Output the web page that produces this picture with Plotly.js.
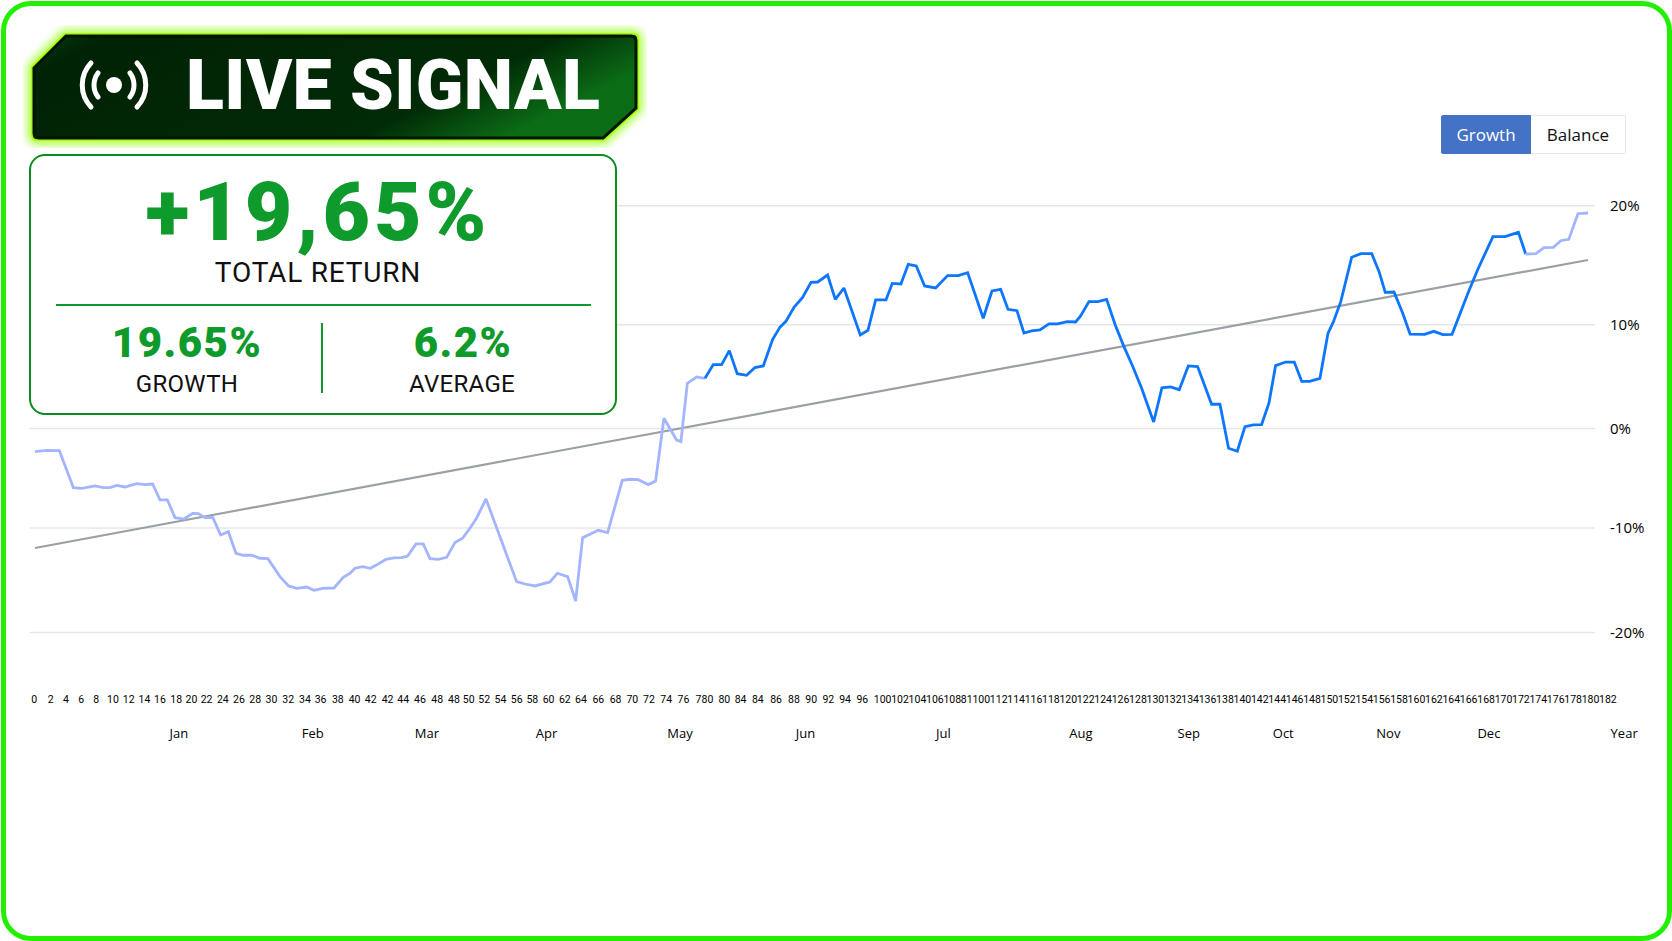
<!DOCTYPE html>
<html>
<head>
<meta charset="utf-8">
<title>Live Signal</title>
<script src="https://cdn.plot.ly/plotly-3.0.1.min.js"></script>
<style>
html, body { margin: 0; padding: 0; background: #fff; width: 1672px; height: 941px; overflow: hidden; font-family: Roboto, sans-serif; }
#frame { position: absolute; left: 1px; top: 1px; width: 1661px; height: 930px; border: 5px solid #22f000; border-radius: 30px; }
#chart { position: absolute; left: 0; top: 0; width: 1672px; height: 941px; }
#badge { position: absolute; left: 23px; top: 25px; width: 624px; height: 123px; }
#badge span { position: absolute; left: 163px; top: 19px; font-size: 70px; line-height: 82px; font-weight: 900; color: #fff; white-space: nowrap; letter-spacing: 0.4px; }
#card { position: absolute; left: 29px; top: 154px; width: 584px; height: 257px; border: 2px solid #0b8c1e; border-radius: 16px; background: #fff; }
#card div { position: absolute; text-align: center; white-space: nowrap; line-height: 1; transform: translate(-50%, -50%); }
.big { color: #0f9a2c; font-weight: 900; }
.cap { color: #111; }
#hline { background: #0f9a2c; width: 535px; height: 1.5px; transform: none !important; }
#vline { background: #0f9a2c; width: 1.5px; height: 70px; transform: none !important; }
#toggle { position: absolute; left: 1441px; top: 115px; display: flex; height: 39px; font-family: "Open Sans", sans-serif; font-size: 17px; }
#toggle button { border: 1px solid #e8e8e8; background: #fff; color: #111; font: inherit; padding: 0; height: 39px; }
#toggle .on { width: 90px; background: #4472c4; border-color: #4472c4; color: #fff; border-radius: 2px 0 0 2px; }
#toggle .off { width: 95px; border-left: 0; border-radius: 0 2px 2px 0; }
</style>
</head>
<body>
<div id="chart"></div>
<div id="frame"></div>
<div id="badge">
  <svg width="624" height="123" viewBox="0 0 624 123" fill="none">
    <defs>
      <linearGradient id="fill" x1="0" y1="0" x2="1" y2="0.35">
        <stop offset="0" stop-color="#02410a"/>
        <stop offset="0.12" stop-color="#012205"/>
        <stop offset="0.78" stop-color="#012a06"/>
        <stop offset="1" stop-color="#0b6c16"/>
      </linearGradient>
      <filter id="glow" x="-10%" y="-30%" width="120%" height="160%">
        <feGaussianBlur stdDeviation="5"/>
      </filter>
    </defs>
    <path d="M42 9 L610 9 Q615 9 615 14 L615 84 L581 115 L14 115 Q9 115 9 110 L9 42 Z" stroke="#8dff00" stroke-width="7" filter="url(#glow)"/>
    <path d="M42 9 L610 9 Q615 9 615 14 L615 84 L581 115 L14 115 Q9 115 9 110 L9 42 Z" fill="url(#fill)" stroke="#a6ff00" stroke-width="2"/>
    <path d="M43 11 L608 11 Q613 11 613 16 L613 83 L580 113 L16 113 Q11 113 11 108 L11 43 Z" stroke="#021503" stroke-width="3"/>
    <g transform="translate(91 60)" stroke="#fff" stroke-width="5" stroke-linecap="round">
      <circle cx="0" cy="0" r="8" fill="#fff" stroke="none"/>
      <path d="M-16 -12 A 20 20 0 0 0 -16 12"/><path d="M16 -12 A 20 20 0 0 1 16 12"/>
      <path d="M-23 -22 A 32 32 0 0 0 -23 22"/><path d="M23 -22 A 32 32 0 0 1 23 22"/>
    </g>
  </svg>
  <span>LIVE SIGNAL</span>
</div>
<div id="card">
  <div class="big" style="left:287px;top:56px;font-size:82px;letter-spacing:4px">+19,65%</div>
  <div class="cap" style="left:287px;top:117px;font-size:28px;letter-spacing:0.8px">TOTAL RETURN</div>
  <div id="hline" style="left:25px;top:148px"></div>
  <div id="vline" style="left:290px;top:167px"></div>
  <div class="big" style="left:156px;top:187px;font-size:42px;letter-spacing:1.5px">19.65%</div>
  <div class="cap" style="left:156px;top:228px;font-size:24px;letter-spacing:0.3px">GROWTH</div>
  <div class="big" style="left:432px;top:187px;font-size:42px;letter-spacing:1.5px">6.2%</div>
  <div class="cap" style="left:431px;top:228px;font-size:24px;letter-spacing:0.3px">AVERAGE</div>
</div>
<div id="toggle"><button class="on">Growth</button><button class="off">Balance</button></div>
<script>
// growth line. it changes colour twice so there are 3 pieces
const earlyDays = [0,1.37,2.85,4.49,5.47,7.03,8.01,8.79,9.57,10.55,11.91,12.89,13.79,14.65,15.51,16.41,17.46,18.48,19.14,19.92,20.82,21.76,22.66,23.55,24.41,25.39,26.37,27.3,28.71,29.73,30.66,31.84,32.69,33.71,35.04,36.13,36.91,37.5,38.4,39.3,40.23,41.13,42.07,42.97,43.67,44.65,45.5,46.29,47.26,48.24,49.22,50.11,50.97,51.76,52.85,56.44,57.42,58.59,60.35,61.21,62.42,63.36,64.18,66.01,67.11,68.83,69.8,70.7,71.87,72.73,73.71,75.19,75.7,76.45,77.54,78.52];
const earlyGrowth = [-2.25,-2.12,-2.15,-5.74,-5.81,-5.58,-5.74,-5.74,-5.52,-5.68,-5.36,-5.45,-5.39,-6.94,-6.94,-8.66,-8.79,-8.24,-8.27,-8.66,-8.62,-10.34,-10.02,-12.12,-12.31,-12.31,-12.6,-12.64,-14.38,-15.29,-15.52,-15.39,-15.71,-15.52,-15.49,-14.45,-14.06,-13.57,-13.41,-13.57,-13.15,-12.7,-12.57,-12.54,-12.38,-11.21,-11.21,-12.64,-12.7,-12.51,-11.08,-10.66,-9.69,-8.69,-6.84,-14.87,-15.1,-15.29,-14.9,-14.06,-14.38,-16.75,-10.6,-9.89,-10.11,-5.03,-4.93,-4.97,-5.45,-5.1,0.99,-1.12,-1.28,4.39,5,4.87];
const midDays = [78.52,79.49,80.47,81.37,82.3,83.4,84.37,85.35,86.45,87.3,88,88.95,89.96,90.94,91.72,92.89,93.79,94.8,96.72,97.62,98.52,99.73,100.47,101.48,102.34,103.28,104.26,105.55,106.95,108.2,109.3,111.13,112.15,113.17,114.03,115.08,115.9,116.8,117.78,118.83,119.85,120.98,121.95,122.54,123.52,124.57,125.59,126.6,127.62,128.63,129.69,130.28,131.1,132.07,133.09,134.1,135.16,136.25,137.89,138.87,139.88,140.9,141.8,142.78,143.75,144.61,145.39,146.57,147.58,148.45,149.39,150.59,151.53,152.17,153.03,153.37,154.31,155.38,156.66,157.52,158.24,159.27,160.29,161.15,162.86,163.93,165,166.07,167.14,168,169.06,169.92,170.86,172.27,173.85,174.7];
const midGrowth = [4.87,6.2,6.2,7.56,5.32,5.16,5.91,6.07,8.66,9.82,10.4,11.76,12.73,14.19,14.22,14.9,12.54,13.64,9.08,9.53,12.48,12.48,14.09,14.03,15.94,15.78,13.84,13.64,14.84,14.84,15.13,10.7,13.35,13.51,11.57,11.44,9.27,9.47,9.57,10.15,10.15,10.37,10.34,10.93,12.32,12.32,12.54,10.05,7.95,6.07,3.9,2.61,0.63,3.94,4.03,3.77,6.07,6.01,2.35,2.35,-1.92,-2.21,0.18,0.34,0.38,2.45,6.1,6.45,6.45,4.58,4.58,4.87,9.24,10.37,12.31,13.45,16.62,16.97,16.97,15.22,13.22,13.25,11.18,9.17,9.14,9.43,9.11,9.14,11.5,13.28,15.39,17,18.62,18.62,19.04,16.94];
const lateDays = [174.7,175.9,176.84,177.95,178.81,179.75,180.82,182];
const lateGrowth = [16.94,16.97,17.55,17.59,18.23,18.36,20.85,20.92];
const trendDays = [0, 182];
const trendGrowth = [-11.6, 16.36];

// the gridlines in the picture are not evenly spaced, the top one is further up
const gridVals = [-19.8, -9.66, 0, 10.07, 21.63];
const gridText = ['-20%', '-10%', '0%', '10%', '20%'];

// the number row is uneven and has odd labels, kept as they are in the picture
const numberText = ['0','2','4','6','8','10','12','14','16','18','20','22','24','26','28','30','32','34','36','38','40','42','42','44','46','48','48','50','52','54','56','58','60','62','64','66','68','70','72','74','76','780','80','84','84','86','88','90','92','94','96','100','102','104','106','108','81','100','112','114','116','118','120','122','124','126','128','130','132','134','136','138','140','142','144','146','148','150','152','154','156','158','160','162','164','166','168','170','172','174','176','178','180','182'];
const numberAt = [-0.1,1.85,3.62,5.4,7.18,9.14,10.98,12.82,14.65,16.55,18.33,20.11,22.01,23.91,25.81,27.71,29.67,31.63,33.47,35.49,37.45,39.35,41.32,43.15,45.12,47.14,49.1,50.82,52.65,54.55,56.45,58.29,60.19,62.09,63.99,66.02,68.04,70,71.96,73.98,76,78.46,80.79,82.69,84.71,86.85,88.94,90.96,92.98,94.94,96.96,99.34,101.38,103.42,105.46,107.5,109.2,110.9,112.94,114.98,117.02,119.06,121.1,123.14,125.18,127.22,129.26,131.3,133.34,135.38,137.42,139.46,141.5,143.54,145.58,147.62,149.66,151.7,153.74,155.78,157.82,159.86,161.9,163.94,165.98,168.02,170.06,172.1,174.14,176.18,178.22,180.26,182.3,184.34];
const monthText = ['Jan','Feb','Mar','Apr','May','Jun','Jul','Aug','Sep','Oct','Nov','Dec','Year'];
const monthAt = [16.86,32.56,45.92,59.94,75.59,90.29,106.47,122.57,135.22,146.29,158.61,170.39,186.24];

const paleBlue = '#a3b5ff';
const strongBlue = '#0d76ff';

function lineTrace(x, y, color, width) {
    return { x: x, y: y, type: 'scatter', mode: 'lines', line: { color: color, width: width }, hoverinfo: 'x+y', showlegend: false };
}

const traces = [
    lineTrace(trendDays, trendGrowth, '#9aa0a6', 2.2),
    lineTrace(earlyDays, earlyGrowth, paleBlue, 2.8),
    lineTrace(midDays, midGrowth, strongBlue, 2.8),
    lineTrace(lateDays, lateGrowth, paleBlue, 2.8),
    // empty trace so the month axis gets drawn
    { x: [null], y: [null], xaxis: 'x2', type: 'scatter', mode: 'lines', showlegend: false }
];

const layout = {
    width: 1672,
    height: 941,
    margin: { l: 0, r: 0, t: 0, b: 0 },
    paper_bgcolor: 'rgba(0,0,0,0)',
    plot_bgcolor: 'rgba(0,0,0,0)',
    showlegend: false,
    font: { family: 'Roboto, sans-serif', color: '#111' },
    xaxis: {
        domain: [30 / 1672, 1650 / 1672],
        range: [-0.586, 189.27],
        anchor: 'free',
        position: 0.2655,
        showgrid: false,
        zeroline: false,
        showline: false,
        ticks: '',
        tickmode: 'array',
        tickvals: numberAt,
        ticktext: numberText,
        tickangle: 0,
        tickfont: { family: 'Roboto, sans-serif', size: 10.5, color: '#000' }
    },
    xaxis2: {
        overlaying: 'x',
        range: [-0.586, 189.27],
        anchor: 'free',
        position: 0.231,
        side: 'bottom',
        showgrid: false,
        zeroline: false,
        showline: false,
        ticks: '',
        tickmode: 'array',
        tickvals: monthAt,
        ticktext: monthText,
        tickangle: 0,
        tickfont: { family: '"Open Sans", sans-serif', size: 13, color: '#000' }
    },
    yaxis: {
        domain: [0, 1],
        range: [-49.76, 41.6],
        anchor: 'free',
        position: 1609 / 1672,
        side: 'right',
        showgrid: false,
        zeroline: false,
        showline: false,
        ticks: '',
        tickmode: 'array',
        tickvals: gridVals,
        ticktext: gridText,
        tickfont: { family: '"Open Sans", sans-serif', size: 15, color: '#000' }
    },
    shapes: gridVals.map(function (v) {
        return { type: 'line', layer: 'below', xref: 'paper', yref: 'y', x0: 30 / 1672, x1: 1595 / 1672, y0: v, y1: v, line: { color: '#e6e6e6', width: 1.5 } };
    })
};

Plotly.newPlot('chart', traces, layout, { displayModeBar: false, responsive: false });
</script>
</body>
</html>
